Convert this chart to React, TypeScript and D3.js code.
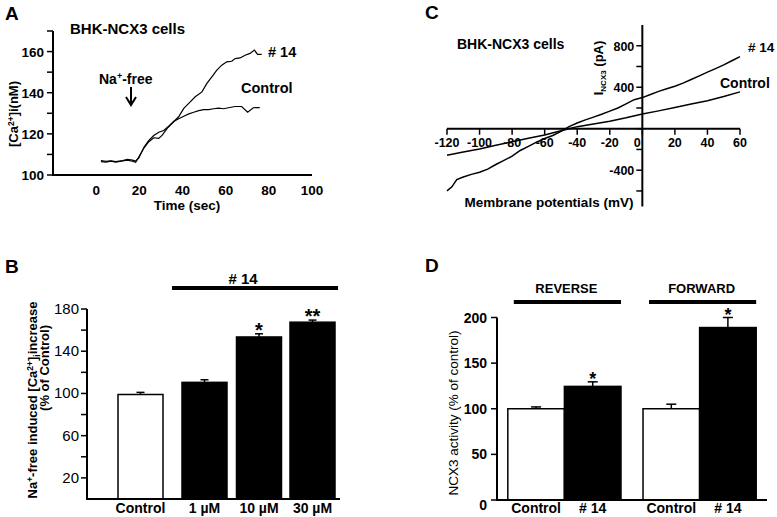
import * as d3 from "d3";

const FONT = "'Liberation Sans', Arial, Helvetica, sans-serif";

// ---- panel A: Ca2+ traces ----
const timeTicksA = [0, 20, 40, 60, 80, 100];
const caTicksA = [100, 120, 140, 160];
const trace14A: [number, number][] = [
  [2.2, 106.5], [4.5, 106.2], [6.8, 106.7], [9.1, 106.3], [12.2, 106.8], [14.5, 107.2],
  [16.8, 106.7], [18.3, 106.2], [19.8, 108.9], [22.1, 113], [24.4, 116.2], [26.7, 118.1],
  [29, 117.8], [30.6, 119.4], [32.9, 122.7], [35.9, 125.9], [38.2, 128.3], [40.6, 132.4],
  [42.9, 134.8], [45.9, 138], [49, 140.4], [51.3, 144.5], [53.6, 147.7], [55.9, 151],
  [58.2, 153.4], [60.5, 155], [62.8, 155.3], [64.4, 156.6], [66.7, 156.9], [69, 158.2],
  [71.3, 159.1], [73.3, 160.7], [74.8, 158.6], [76.7, 158.6],
];
const traceCtrlA: [number, number][] = [
  [2.2, 107], [4.5, 106.6], [6.8, 106.9], [9.1, 106.5], [12.2, 107], [14.5, 107.6],
  [16.8, 107.2], [18.3, 106.8], [19.8, 108.3], [22.1, 113.5], [24.4, 116.8], [26.7, 119.2],
  [29, 120.8], [31.3, 121.6], [33.6, 123.7], [35.9, 126], [38.2, 127.3], [40.6, 128.6],
  [42.9, 129.7], [45.2, 130.5], [47.5, 131.3], [49.8, 131.8], [52.1, 131.8], [54.4, 132.2],
  [56.7, 132.5], [59, 132.2], [61.3, 132.7], [64.4, 133.3], [67.4, 133.3], [70.2, 130.5],
  [72.8, 132.7], [75.8, 132.8],
];

// ---- panel B: bars ----
const catsB = ["Control", "1 µM", "10 µM", "30 µM"];
const valsB = [99, 110.5, 153.5, 167.5];
const errB = [2, 2.5, 3, 2];
const filledB = [false, true, true, true];
const starsB = ["", "", "*", "**"];
const ticksB = [20, 60, 100, 140, 180];

// ---- panel C: I-V curves ----
const mvTicksC = [-120, -100, -80, -60, -40, -20, 0, 20, 40, 60];
const iTicksC = [-400, 400, 800];
const iv14C: [number, number][] = [
  [-120, -600], [-117, -560], [-114, -490], [-110, -465], [-105, -440], [-100, -420],
  [-95, -390], [-90, -345], [-85, -305], [-80, -265], [-75, -210], [-70, -170],
  [-65, -130], [-60, -95], [-55, -65], [-50, -25], [-45, 20], [-40, 55], [-35, 85],
  [-30, 112], [-25, 140], [-20, 170], [-15, 200], [-10, 240], [-5, 280], [0, 300],
  [5, 330], [10, 360], [15, 385], [20, 410], [25, 440], [30, 475], [35, 510], [40, 545],
  [45, 580], [50, 615], [55, 655], [60, 695],
];
const ivCtrlC: [number, number][] = [
  [-120, -255], [-110, -225], [-100, -195], [-90, -160], [-80, -125], [-70, -92],
  [-60, -60], [-50, -20], [-45, 0], [-40, 20], [-30, 45], [-20, 72], [-10, 105],
  [0, 142], [10, 172], [20, 205], [30, 238], [40, 270], [50, 310], [60, 355],
];

// ---- panel D: grouped bars ----
const groupsD = ["REVERSE", "FORWARD"];
const membersD = ["Control", "# 14"];
const valsD = [[100, 124.5], [100, 189]];
const errD = [[2, 5], [5, 11]];
const starsD = [["", "*"], ["", "*"]];
const ticksD = [0, 50, 100, 150, 200];

const axisW = 2;

function PanelA() {
  const x = d3.scaleLinear().domain([-20, 100]).range([53, 312]);
  const y = d3.scaleLinear().domain([100, 170]).range([175, 31]);
  const line = d3.line<[number, number]>().x((d) => x(d[0])).y((d) => y(d[1]));
  return (
    <g>
      <text x={5} y={20} fontSize={19} fontWeight="bold">A</text>
      <line x1={x(-20)} x2={x(-20)} y1={y(170)} y2={y(100)} stroke="black" strokeWidth={axisW} />
      <line x1={x(-20) - 1} x2={x(100)} y1={y(100)} y2={y(100)} stroke="black" strokeWidth={axisW} />
      {d3.range(100, 171, 10).map((t) => (
        <line key={t} x1={x(-20) - 6} x2={x(-20)} y1={y(t)} y2={y(t)} stroke="black" strokeWidth={1.5} />
      ))}
      {caTicksA.map((t) => (
        <text key={t} x={x(-20) - 9} y={y(t) + 5} textAnchor="end" fontSize={13.5} fontWeight="bold">{t}</text>
      ))}
      {timeTicksA.map((t) => (
        <text key={t} x={x(t)} y={195} textAnchor="middle" fontSize={13.5} fontWeight="bold">{t}</text>
      ))}
      <text x={187} y={210} textAnchor="middle" fontSize={13.5} fontWeight="bold">Time (sec)</text>
      <text transform={`translate(18,114) rotate(-90)`} textAnchor="middle" fontSize={13} fontWeight="bold">
        [Ca<tspan dy={-4} fontSize={8.5}>2+</tspan><tspan dy={4}>]i(nM)</tspan>
      </text>
      <path d={line(trace14A) ?? ""} fill="none" stroke="black" strokeWidth={1.2} />
      <path d={line(traceCtrlA) ?? ""} fill="none" stroke="black" strokeWidth={1.2} />
      <text x={70} y={34} fontSize={15} fontWeight="bold">BHK-NCX3 cells</text>
      <text x={268} y={57} fontSize={14.5} fontWeight="bold"># 14</text>
      <text x={241} y={93} fontSize={14.5} fontWeight="bold">Control</text>
      <text x={99} y={84} fontSize={14} fontWeight="bold">
        Na<tspan dy={-5} fontSize={9}>+</tspan><tspan dy={5}>-free</tspan>
      </text>
      <line x1={131} x2={131} y1={87} y2={104} stroke="black" strokeWidth={2} />
      <path d="M126,97 L131,105 L136,97" fill="none" stroke="black" strokeWidth={2} />
    </g>
  );
}

function PanelB() {
  const x = d3.scaleLinear().domain([0, 1, 2, 3]).range([140.5, 204.5, 259, 312.5]);
  const y = d3.scaleLinear().domain([0, 180]).range([499, 309]);
  const bw = 45;
  return (
    <g>
      <text x={5} y={273} fontSize={19} fontWeight="bold">B</text>
      <text x={243} y={284} textAnchor="middle" fontSize={15} fontWeight="bold"># 14</text>
      <line x1={172} x2={338} y1={288} y2={288} stroke="black" strokeWidth={4} />
      {catsB.map((c, i) => (
        <g key={c}>
          <line x1={x(i)} x2={x(i)} y1={y(valsB[i])} y2={y(valsB[i] + errB[i])} stroke="black" strokeWidth={1.5} />
          <line x1={x(i) - 4} x2={x(i) + 4} y1={y(valsB[i] + errB[i])} y2={y(valsB[i] + errB[i])} stroke="black" strokeWidth={1.5} />
          <rect x={x(i) - bw / 2} y={y(valsB[i])} width={bw} height={y(0) - y(valsB[i])}
            fill={filledB[i] ? "black" : "white"} stroke="black" strokeWidth={1.5} />
          {starsB[i] && (
            <text x={x(i)} y={y(valsB[i] + errB[i]) + 3} textAnchor="middle" fontSize={20} fontWeight="bold">{starsB[i]}</text>
          )}
          <text x={x(i)} y={513} textAnchor="middle" fontSize={14} fontWeight="bold">{c}</text>
        </g>
      ))}
      <line x1={87} x2={87} y1={y(180)} y2={y(0)} stroke="black" strokeWidth={axisW} />
      <line x1={86} x2={340} y1={y(0)} y2={y(0)} stroke="black" strokeWidth={axisW} />
      {d3.range(20, 181, 20).map((t) => (
        <line key={t} x1={81} x2={87} y1={y(t)} y2={y(t)} stroke="black" strokeWidth={1.5} />
      ))}
      {ticksB.map((t) => (
        <text key={t} x={79} y={y(t) + 5} textAnchor="end" fontSize={15}>{t}</text>
      ))}
      <text transform={`translate(37,400) rotate(-90)`} textAnchor="middle" fontSize={13} fontWeight="bold">
        Na<tspan dy={-4} fontSize={8.5}>+</tspan><tspan dy={4}>-free induced [Ca</tspan>
        <tspan dy={-4} fontSize={8.5}>2+</tspan><tspan dy={4}>]</tspan>
        <tspan dy={3} fontSize={8.5}>i</tspan><tspan dy={-3}>increase</tspan>
      </text>
      <text transform={`translate(49,368) rotate(-90)`} textAnchor="middle" fontSize={13} fontWeight="bold">
        (% of Control)
      </text>
    </g>
  );
}

function PanelC() {
  const x = d3.scaleLinear().domain([-120, 60]).range([447, 740]);
  const y = d3.scaleLinear().domain([-750, 1000]).range([206.5, 25]);
  const line = d3.line<[number, number]>().x((d) => x(d[0])).y((d) => y(d[1]));
  return (
    <g>
      <text x={425} y={19} fontSize={19} fontWeight="bold">C</text>
      <line x1={x(0)} x2={x(0)} y1={y(1000)} y2={y(-750)} stroke="black" strokeWidth={axisW} />
      <line x1={x(-120)} x2={x(60)} y1={y(0)} y2={y(0)} stroke="black" strokeWidth={axisW} />
      {d3.range(-600, 801, 200).map((t) => (
        <line key={t} x1={x(0) - 6} x2={x(0)} y1={y(t)} y2={y(t)} stroke="black" strokeWidth={1.5} />
      ))}
      {mvTicksC.map((t) => (
        <g key={t}>
          <line x1={x(t)} x2={x(t)} y1={y(0)} y2={y(0) + 6} stroke="black" strokeWidth={1.5} />
          <text x={x(t) + (t === 0 ? -5 : 0)} y={147} textAnchor="middle" fontSize={12.5} fontWeight="bold">{t}</text>
        </g>
      ))}
      {iTicksC.map((t) => (
        <text key={t} x={x(0) - 8} y={y(t) + 5} textAnchor="end" fontSize={12.5} fontWeight="bold">{t}</text>
      ))}
      <path d={line(iv14C) ?? ""} fill="none" stroke="black" strokeWidth={1.5} />
      <path d={line(ivCtrlC) ?? ""} fill="none" stroke="black" strokeWidth={1.5} />
      <text x={457} y={49} fontSize={14} fontWeight="bold">BHK-NCX3 cells</text>
      <text x={748} y={52} fontSize={13.5} fontWeight="bold"># 14</text>
      <text x={720} y={88} fontSize={14} fontWeight="bold">Control</text>
      <text x={549} y={207} textAnchor="middle" fontSize={13.5} fontWeight="bold">Membrane potentials (mV)</text>
      <text transform={`translate(603,68) rotate(-90)`} textAnchor="middle" fontSize={13} fontWeight="bold">
        I<tspan dy={3} fontSize={8}>NCX3</tspan><tspan dy={-3}> (pA)</tspan>
      </text>
    </g>
  );
}

function PanelD() {
  const xg = d3.scaleBand().domain(groupsD).range([497, 767]).paddingInner(0.163).paddingOuter(0.08);
  const xm = d3.scaleBand().domain(membersD).range([0, xg.bandwidth()]);
  const y = d3.scaleLinear().domain([0, 200]).range([500, 317.5]);
  return (
    <g>
      <text x={425} y={272} fontSize={19} fontWeight="bold">D</text>
      {groupsD.map((g, gi) => (
        <g key={g} transform={`translate(${xg(g)},0)`}>
          <text x={xg.bandwidth() / 2 + 2} y={293} textAnchor="middle" fontSize={13} fontWeight="bold">{g}</text>
          <line x1={6} x2={xg.bandwidth()} y1={302} y2={302} stroke="black" strokeWidth={4} />
          {membersD.map((m, mi) => {
            const cx = (xm(m) ?? 0) + xm.bandwidth() / 2;
            const v = valsD[gi][mi];
            const e = errD[gi][mi];
            return (
              <g key={m}>
                <line x1={cx} x2={cx} y1={y(v)} y2={y(v + e)} stroke="black" strokeWidth={1.5} />
                <line x1={cx - 5} x2={cx + 5} y1={y(v + e)} y2={y(v + e)} stroke="black" strokeWidth={1.5} />
                <rect x={xm(m)} y={y(v)} width={xm.bandwidth()} height={y(0) - y(v)}
                  fill={mi === 1 ? "black" : "white"} stroke="black" strokeWidth={1.5} />
                {starsD[gi][mi] && (
                  <text x={cx} y={y(v + e) + 3} textAnchor="middle" fontSize={18} fontWeight="bold">{starsD[gi][mi]}</text>
                )}
                <text x={cx} y={513} textAnchor="middle" fontSize={14} fontWeight="bold">{m}</text>
              </g>
            );
          })}
        </g>
      ))}
      <line x1={497} x2={497} y1={y(200)} y2={y(0)} stroke="black" strokeWidth={axisW} />
      <line x1={496} x2={767} y1={y(0)} y2={y(0)} stroke="black" strokeWidth={axisW} />
      {ticksD.map((t) => (
        <g key={t}>
          <line x1={491} x2={497} y1={y(t)} y2={y(t)} stroke="black" strokeWidth={1.5} />
          <text x={487} y={y(t) + 5 + (t === 0 ? 5 : 0)} textAnchor="end" fontSize={14} fontWeight="bold">{t}</text>
        </g>
      ))}
      <text transform={`translate(458,413) rotate(-90)`} textAnchor="middle" fontSize={13.5}>
        NCX3 activity (% of control)
      </text>
    </g>
  );
}

export default function App() {
  return (
    <svg width={777} height={517} style={{ position: "absolute", left: 0, top: 0, background: "white" }}
      fontFamily={FONT}>
      <rect width={777} height={517} fill="white" />
      <PanelA />
      <PanelB />
      <PanelC />
      <PanelD />
    </svg>
  );
}
